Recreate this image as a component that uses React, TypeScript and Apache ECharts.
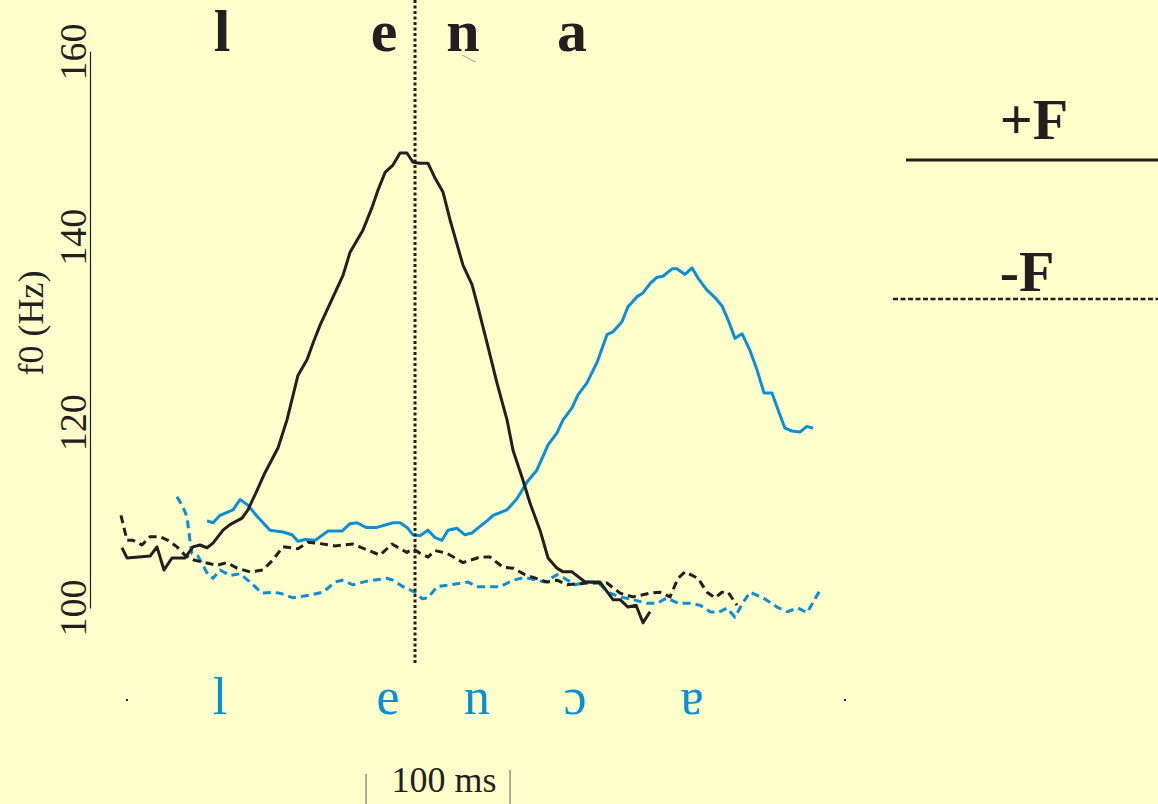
import React, { useEffect, useRef } from "react";
import * as echarts from "echarts";

// time in ms, f0 in Hz
const lenaPlusT = [22.2, 25.7, 41.7, 46.5, 51.4, 56.9, 66.0, 71.5, 76.4, 81.3, 85.4, 92.4, 97.2, 105.6, 109.7, 116.0, 121.5, 130.6, 136.8, 144.4, 150.7, 154.9, 159.7, 175.7, 180.6, 189.6, 195.8, 200.0, 204.9, 210.4, 215.3, 220.1, 224.3, 229.2, 234.7, 239.6, 245.1, 250.0, 253.5, 259.0, 265.3, 269.4, 275.7, 282.6, 289.6, 293.8, 300.0, 305.6, 312.5, 318.1, 324.3, 328.5, 334.7, 343.8, 354.2, 363.2, 368.1, 373.6, 379.2, 384.0, 388.9];
const lenaPlusHz = [106.5, 105.4, 105.6, 106.6, 104.1, 105.4, 105.4, 106.6, 106.8, 106.5, 107.0, 108.4, 109.0, 109.7, 110.6, 112.7, 114.6, 117.3, 120.3, 125.1, 126.8, 128.6, 130.5, 135.9, 138.4, 140.8, 143.2, 145.1, 147.0, 147.8, 149.1, 149.1, 148.1, 148.0, 148.0, 146.4, 144.9, 141.9, 140.0, 137.0, 134.9, 132.5, 128.6, 124.3, 120.3, 117.0, 114.1, 111.3, 108.4, 105.4, 104.3, 103.9, 103.9, 102.8, 102.8, 100.9, 100.9, 100.1, 100.3, 98.4, 99.6];

const lenaMinusT = [21.5, 25.7, 29.9, 36.1, 41.7, 48.6, 54.2, 60.4, 66.0, 71.5, 79.9, 88.2, 95.1, 102.1, 111.1, 120.1, 127.1, 134.0, 144.4, 151.4, 157.6, 170.1, 182.6, 188.9, 201.4, 209.7, 220.1, 224.3, 229.2, 234.7, 239.6, 247.9, 259.0, 270.8, 277.8, 286.8, 293.8, 302.1, 317.4, 324.3, 331.3, 345.1, 359.0, 368.1, 377.1, 388.9, 395.8, 402.8, 408.3, 413.2, 422.2, 428.5, 434.0, 438.9, 443.1, 449.3];
const lenaMinusHz = [110.0, 107.3, 107.3, 106.8, 107.7, 107.7, 107.3, 106.6, 105.7, 105.2, 104.9, 104.6, 104.9, 104.3, 103.9, 104.1, 105.2, 106.6, 106.4, 107.1, 107.0, 106.7, 106.9, 106.5, 105.7, 106.9, 106.0, 106.4, 105.9, 105.5, 106.2, 105.9, 104.9, 105.5, 105.5, 104.4, 104.3, 103.6, 102.8, 103.0, 102.5, 102.7, 102.7, 101.6, 101.2, 101.6, 101.7, 101.2, 103.2, 103.9, 103.2, 101.7, 101.1, 101.7, 101.7, 100.3];

const lenorePlusT = [81.3, 85.4, 90.3, 99.3, 104.2, 109.7, 116.0, 125.0, 134.0, 140.3, 144.4, 149.3, 156.3, 165.3, 175.0, 180.6, 185.4, 191.7, 199.3, 210.4, 215.3, 220.1, 224.3, 229.2, 234.7, 239.6, 244.4, 248.6, 254.9, 260.4, 265.3, 270.8, 275.7, 279.9, 289.6, 296.5, 303.5, 310.4, 318.1, 324.3, 328.5, 334.7, 338.9, 345.1, 352.1, 359.0, 363.2, 369.4, 373.6, 379.9, 384.0, 388.9, 393.8, 397.9, 404.2, 407.6, 413.2, 418.1, 422.2, 428.5, 434.0, 438.9, 443.1, 447.9, 452.8, 458.3, 463.2, 468.1, 473.6, 477.8, 482.6, 487.5, 493.1, 497.9, 502.1];
const lenorePlusHz = [109.4, 109.2, 110.0, 110.6, 111.7, 111.1, 109.9, 108.4, 108.2, 107.9, 107.2, 107.4, 107.3, 108.3, 108.3, 109.1, 109.2, 108.7, 108.7, 109.2, 109.2, 108.7, 107.9, 107.8, 108.4, 107.6, 107.3, 108.4, 108.6, 107.9, 108.1, 108.8, 109.4, 110.0, 110.6, 111.8, 113.6, 114.9, 117.6, 118.9, 120.3, 121.6, 123.0, 124.3, 126.5, 129.5, 129.8, 130.9, 132.5, 133.6, 134.0, 135.0, 135.7, 135.8, 136.6, 136.6, 136.0, 136.7, 135.6, 134.3, 133.5, 132.6, 131.1, 129.1, 129.6, 127.8, 125.7, 123.2, 123.2, 121.4, 119.4, 119.1, 119.0, 119.6, 119.4];

const lenoreMinusT = [60.4, 64.6, 67.4, 69.4, 70.8, 75.0, 78.5, 81.9, 85.4, 90.3, 97.2, 104.2, 111.1, 119.4, 127.1, 131.9, 141.0, 152.8, 161.8, 170.1, 175.0, 182.6, 192.4, 206.3, 210.4, 217.4, 225.7, 230.6, 234.7, 241.0, 250.0, 262.5, 268.8, 284.7, 293.8, 302.1, 316.0, 324.3, 328.5, 336.8, 345.1, 352.8, 361.1, 368.1, 377.1, 386.8, 393.8, 400.7, 408.3, 416.7, 423.6, 430.6, 436.1, 442.4, 447.9, 453.5, 458.3, 467.4, 477.1, 484.0, 491.7, 497.9, 502.1, 506.9];
const lenoreMinusHz = [112.0, 110.9, 109.8, 107.3, 105.9, 105.6, 104.6, 103.6, 103.2, 104.1, 103.5, 103.7, 102.8, 101.6, 101.7, 101.6, 101.1, 101.4, 101.7, 102.8, 103.0, 102.5, 102.9, 103.2, 103.0, 102.3, 101.7, 101.0, 101.1, 102.3, 102.5, 102.8, 102.3, 102.3, 103.0, 103.3, 102.8, 103.6, 103.3, 102.5, 102.8, 102.7, 101.6, 101.2, 100.9, 100.5, 100.5, 101.1, 100.5, 100.5, 100.3, 99.6, 99.5, 100.0, 99.0, 100.6, 101.7, 101.1, 100.1, 99.6, 100.0, 99.5, 100.6, 101.9];

const yTicks = [100, 120, 140, 160];
const topLabels = ["l", "e", "n", "a"];
const bottomLabels = ["l", "e", "n", "ɔ", "ɐ"];
const focusTime = 225.7; // vertical dotted line
const scaleBarStart = 191.7;
const scaleBarLength = 100; // ms

const BLACK = "#231f20";
const BLUE = "#0a8fd6";
const BG = "#ffffcc";
const SERIF = "'Liberation Serif', 'Times New Roman', serif";

const zip = (t: number[], v: number[]) => t.map((x, i) => [x, v[i]]);

export default function App() {
  const ref = useRef<HTMLDivElement>(null);
  useEffect(() => {
    document.body.style.margin = "0";
    document.body.style.background = BG;
    const chart = echarts.init(ref.current!, null, { renderer: "svg" });
    const lineSeries = (name: string, t: number[], v: number[], color: string, dashed: boolean) => ({
      name,
      type: "line",
      data: zip(t, v),
      showSymbol: false,
      symbol: "none",
      clip: false,
      lineStyle: { color, width: 3, type: dashed ? [8, 5] : "solid", join: "round" },
      z: color === BLACK ? 3 : 2,
    });
    chart.setOption({
      animation: false,
      backgroundColor: BG,
      grid: { left: 90, top: 52, width: 748.8, height: 556 },
      xAxis: { type: "value", min: 0, max: 520, show: false },
      yAxis: {
        type: "value",
        min: yTicks[0],
        max: yTicks[yTicks.length - 1],
        interval: 20,
        axisLine: { show: true, lineStyle: { color: BLACK, width: 1.2 } },
        axisTick: { show: false },
        splitLine: { show: false },
        axisLabel: {
          rotate: 90,
          margin: -2,
          fontFamily: SERIF,
          fontSize: 38,
          color: BLACK,
        },
      },
      series: [
        lineSeries("lena -F", lenaMinusT, lenaMinusHz, BLACK, true),
        lineSeries("lenore -F", lenoreMinusT, lenoreMinusHz, BLUE, true),
        lineSeries("lenore +F", lenorePlusT, lenorePlusHz, BLUE, false),
        lineSeries("lena +F", lenaPlusT, lenaPlusHz, BLACK, false),
      ],
    });

    const px = (t: number) => chart.convertToPixel({ gridIndex: 0 }, [t, 100])[0];
    const fx = px(focusTime);
    const b0 = px(scaleBarStart);
    const b1 = px(scaleBarStart + scaleBarLength);
    const topX = [222, 384, 463, 572];
    const botX = [220, 388, 477, 575, 692];
    const graphics: any[] = [
      {
        type: "line",
        shape: { x1: fx, y1: 0, x2: fx, y2: 663 },
        style: { stroke: BLACK, lineWidth: 3, lineDash: [3, 2.5] },
        z: 10,
      },
      {
        type: "text",
        x: 31,
        y: 323,
        rotation: Math.PI / 2,
        style: { text: "f0 (Hz)", font: `36px ${SERIF}`, fill: BLACK, align: "center", verticalAlign: "middle" },
      },
      ...topLabels.map((s, i) => ({
        type: "text",
        x: topX[i],
        y: 1,
        style: { text: s, font: `bold 60px ${SERIF}`, fill: BLACK, align: "center", verticalAlign: "top" },
      })),
      ...bottomLabels.map((s, i) => ({
        type: "text",
        x: botX[i],
        y: 670,
        style: { text: s, font: `52px ${SERIF}`, fill: BLUE, align: "center", verticalAlign: "top" },
      })),
      { type: "line", shape: { x1: 462, y1: 55, x2: 475, y2: 62 }, style: { stroke: "#9a9a8a", lineWidth: 1 } },
      { type: "rect", shape: { x: 126, y: 699, width: 2, height: 2 }, style: { fill: BLACK } },
      { type: "rect", shape: { x: 844, y: 699, width: 2, height: 2 }, style: { fill: BLACK } },
      { type: "line", shape: { x1: b0, y1: 774, x2: b0, y2: 804 }, style: { stroke: "#555", lineWidth: 1 } },
      { type: "line", shape: { x1: b1, y1: 770, x2: b1, y2: 804 }, style: { stroke: "#555", lineWidth: 1 } },
      {
        type: "text",
        x: (b0 + b1) / 2 + 6,
        y: 762,
        style: { text: "100 ms", font: `36px ${SERIF}`, fill: BLACK, align: "center", verticalAlign: "top" },
      },
      {
        type: "text",
        x: 1034,
        y: 90,
        style: { text: "+F", font: `bold 58px ${SERIF}`, fill: BLACK, align: "center", verticalAlign: "top" },
      },
      { type: "line", shape: { x1: 906, y1: 160, x2: 1158, y2: 160 }, style: { stroke: BLACK, lineWidth: 3 } },
      {
        type: "text",
        x: 1027,
        y: 242,
        style: { text: "-F", font: `bold 58px ${SERIF}`, fill: BLACK, align: "center", verticalAlign: "top" },
      },
      {
        type: "line",
        shape: { x1: 893, y1: 299, x2: 1158, y2: 299 },
        style: { stroke: BLACK, lineWidth: 2.5, lineDash: [5, 2.5] },
      },
    ];
    chart.setOption({ graphic: graphics });
    return () => chart.dispose();
  }, []);
  return <div ref={ref} style={{ width: 1158, height: 804 }} />;
}
